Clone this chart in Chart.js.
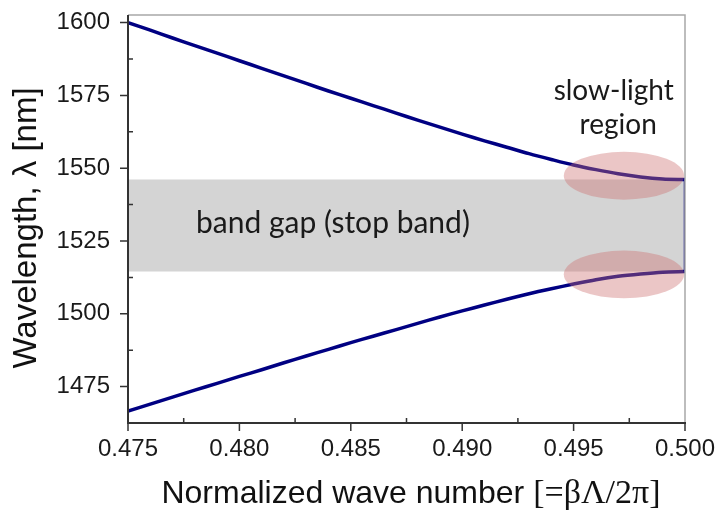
<!DOCTYPE html>
<html>
<head>
<meta charset="utf-8">
<script src="https://cdn.jsdelivr.net/npm/chart.js@4.4.1/dist/chart.umd.min.js"></script>
<style>
  html, body { margin: 0; padding: 0; background: #fff; }
  #wrap { width: 716px; height: 511px; }
</style>
</head>
<body>
<div id="wrap"><canvas id="chart" width="716" height="511"></canvas></div>
<script>
// normalized wave number (x) and the two band-edge branches (nm)
const waveNumber = [0.475, 0.476, 0.477, 0.478, 0.479, 0.480, 0.481, 0.482, 0.483, 0.484, 0.485, 0.486, 0.487,
                    0.488, 0.489, 0.490, 0.491, 0.492, 0.493, 0.494, 0.495, 0.496, 0.497, 0.498, 0.499, 0.500];
const upperBand = [1600.0, 1597.4, 1594.7, 1592.1, 1589.5, 1586.9, 1584.3, 1581.7, 1579.1, 1576.5, 1574.0, 1571.5, 1569.0,
                   1566.5, 1564.1, 1561.7, 1559.4, 1557.2, 1555.0, 1553.0, 1551.1, 1549.5, 1548.1, 1547.0, 1546.3, 1546.1];
const lowerBand = [1466.6, 1469.0, 1471.4, 1473.8, 1476.1, 1478.5, 1480.8, 1483.2, 1485.5, 1487.8, 1490.1, 1492.3, 1494.5,
                   1496.7, 1498.9, 1501.0, 1503.0, 1505.0, 1506.9, 1508.6, 1510.2, 1511.7, 1512.9, 1513.7, 1514.3, 1514.5];

// stop band limits (nm)
const gapTop = 1546.1;
const gapBottom = 1514.5;

// slow-light highlight centres [x, y]
const slowLightSpots = [[0.49726, 1547.4], [0.49726, 1513.5]];
const spotRadius = [0.0027, 8.2];

const xTicks = [0.475, 0.480, 0.485, 0.490, 0.495, 0.500];
const xMinor = [0.4775, 0.4825, 0.4875, 0.4925, 0.4975];
const yTicks = [1475, 1500, 1525, 1550, 1575, 1600];
const yMinor = [1487.5, 1512.5, 1537.5, 1562.5, 1587.5];

const lineColor = "#000082";
const sansFont = "'Liberation Sans', Arial, sans-serif";
const serifFont = "'Liberation Serif', 'Times New Roman', serif";
const noteFont = "Lato, 'Open Sans', sans-serif";

const pts = (ys) => waveNumber.map((x, i) => ({ x: x, y: ys[i] }));

const decorPlugin = {
    id: "decor",
    afterDatasetsDraw(chart) {
        const ctx = chart.ctx;
        const xs = chart.scales.x, ys = chart.scales.y;
        ctx.save();
        // pink ellipses over the slow-light regions
        ctx.fillStyle = "rgba(205, 112, 112, 0.4)";
        slowLightSpots.forEach(([cx, cy]) => {
            const px = xs.getPixelForValue(cx), py = ys.getPixelForValue(cy);
            const rx = Math.abs(xs.getPixelForValue(cx + spotRadius[0]) - px);
            const ry = Math.abs(ys.getPixelForValue(cy + spotRadius[1]) - py);
            ctx.beginPath();
            ctx.ellipse(px, py, rx, ry, 0, 0, Math.PI * 2);
            ctx.fill();
        });
        // notes
        ctx.fillStyle = "#1a1a1a";
        ctx.textAlign = "center";
        ctx.textBaseline = "alphabetic";
        ctx.font = "30px " + noteFont;
        ctx.fillText("band gap (stop band)", xs.getPixelForValue(0.4842), ys.getPixelForValue(1527.7));
        ctx.font = "28px " + noteFont;
        ctx.fillText("slow-light", xs.getPixelForValue(0.4968), ys.getPixelForValue(1573.3));
        ctx.fillText("region", xs.getPixelForValue(0.4970), ys.getPixelForValue(1561.6));
        ctx.restore();
    },
    afterDraw(chart) {
        const ctx = chart.ctx;
        const a = chart.chartArea;
        const xs = chart.scales.x, ys = chart.scales.y;
        ctx.save();
        // top / right frame
        ctx.strokeStyle = "#a8a8a8";
        ctx.lineWidth = 1.5;
        ctx.beginPath();
        ctx.moveTo(a.left, a.top);
        ctx.lineTo(a.right, a.top);
        ctx.lineTo(a.right, a.bottom);
        ctx.stroke();
        // left / bottom axes
        ctx.strokeStyle = "#333";
        ctx.lineWidth = 2;
        ctx.beginPath();
        ctx.moveTo(a.left, a.top);
        ctx.lineTo(a.left, a.bottom);
        ctx.lineTo(a.right + 1, a.bottom);
        ctx.stroke();
        // ticks: major outward, minor inward
        ctx.lineWidth = 1.5;
        ctx.beginPath();
        xTicks.forEach(v => { const p = xs.getPixelForValue(v); ctx.moveTo(p, a.bottom); ctx.lineTo(p, a.bottom + 8); });
        xMinor.forEach(v => { const p = xs.getPixelForValue(v); ctx.moveTo(p, a.bottom); ctx.lineTo(p, a.bottom - 5); });
        yTicks.forEach(v => { const p = ys.getPixelForValue(v); ctx.moveTo(a.left, p); ctx.lineTo(a.left - 8, p); });
        yMinor.forEach(v => { const p = ys.getPixelForValue(v); ctx.moveTo(a.left, p); ctx.lineTo(a.left + 5, p); });
        ctx.stroke();
        // x title, sans part + serif part
        const t1 = "Normalized wave number ";
        const t2 = "[=\u03b2\u039b/2\u03c0]";
        ctx.fillStyle = "#111";
        ctx.textBaseline = "alphabetic";
        ctx.textAlign = "left";
        ctx.font = "32px " + sansFont;
        const w1 = ctx.measureText(t1).width;
        ctx.font = "34px " + serifFont;
        const w2 = ctx.measureText(t2).width;
        const x0 = 411 - (w1 + w2) / 2;
        ctx.font = "32px " + sansFont;
        ctx.fillText(t1, x0, 503);
        ctx.font = "34px " + serifFont;
        ctx.fillText(t2, x0 + w1, 503);
        // y title, rotated
        ctx.translate(36, 228);
        ctx.rotate(-Math.PI / 2);
        ctx.textAlign = "center";
        ctx.font = "33px " + sansFont;
        ctx.fillText("Wavelength, \u03bb [nm]", 0, 0);
        ctx.restore();
    }
};

new Chart(document.getElementById("chart"), {
    type: "line",
    data: {
        datasets: [
            {
                data: pts(upperBand),
                borderColor: lineColor,
                borderWidth: 3.5,
                pointRadius: 0,
                tension: 0.3,
                fill: false,
            },
            {
                data: pts(lowerBand),
                borderColor: lineColor,
                borderWidth: 3.5,
                pointRadius: 0,
                tension: 0.3,
                fill: false,
            },
            {
                data: [{ x: 0.5, y: gapTop }, { x: 0.5, y: gapBottom }],
                borderColor: lineColor,
                borderWidth: 2.5,
                pointRadius: 0,
                fill: false,
            },
            {
                data: [{ x: 0.475, y: gapTop }, { x: 0.5, y: gapTop }],
                borderWidth: 0,
                borderColor: "rgba(0,0,0,0)",
                backgroundColor: "#d4d4d4",
                pointRadius: 0,
                fill: "+1",
            },
            {
                data: [{ x: 0.475, y: gapBottom }, { x: 0.5, y: gapBottom }],
                borderWidth: 0,
                borderColor: "rgba(0,0,0,0)",
                pointRadius: 0,
                fill: false,
            },
        ],
    },
    options: {
        responsive: false,
        animation: false,
        events: [],
        layout: { padding: { top: 15, right: 31, left: 0, bottom: 0 } },
        plugins: { legend: { display: false }, tooltip: { enabled: false } },
        scales: {
            x: {
                type: "linear",
                min: 0.475,
                max: 0.5,
                afterBuildTicks: (s) => { s.ticks = xTicks.map(v => ({ value: v })); },
                afterFit: (s) => { s.height = 88; s.paddingLeft = 0; s.paddingRight = 0; },
                grid: { display: false, drawTicks: false },
                border: { display: false },
                ticks: {
                    padding: 12,
                    color: "#1a1a1a",
                    font: { family: sansFont, size: 24 },
                    maxRotation: 0,
                    callback: (v) => v.toFixed(3),
                },
            },
            y: {
                type: "linear",
                min: 1462.5,
                max: 1602.6,
                afterBuildTicks: (s) => { s.ticks = yTicks.map(v => ({ value: v })); },
                afterFit: (s) => { s.width = 128; s.paddingTop = 0; s.paddingBottom = 0; },
                grid: { display: false, drawTicks: false },
                border: { display: false },
                ticks: {
                    padding: 18,
                    color: "#1a1a1a",
                    font: { family: sansFont, size: 24 },
                    callback: (v) => String(v),
                },
            },
        },
    },
    plugins: [decorPlugin],
});
</script>
</body>
</html>
